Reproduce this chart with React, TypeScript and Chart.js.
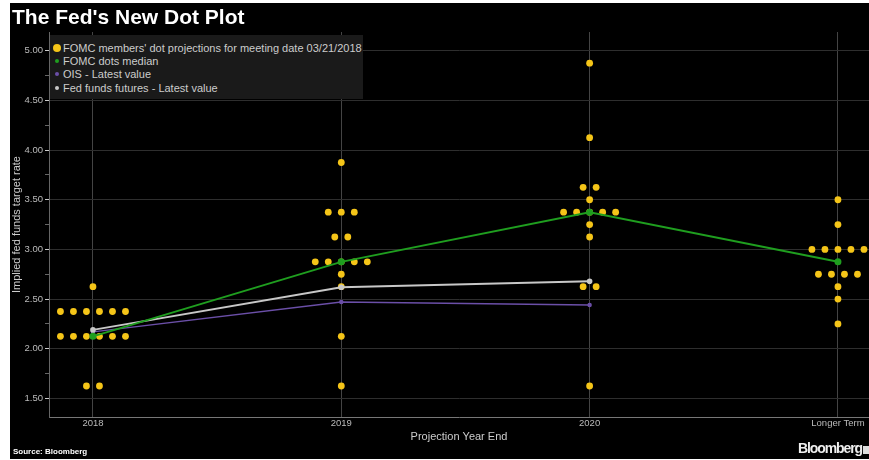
import { useEffect, useRef } from 'react'
import { Chart, registerables } from 'chart.js'

Chart.register(...registerables)

const categories = ['2018', '2019', '2020', 'Longer Term']

// [rate, number of FOMC members at that rate]
const dots2018 = [[2.625, 1], [2.375, 6], [2.125, 6], [1.625, 2]]
const dots2019 = [[3.875, 1], [3.375, 3], [3.125, 2], [2.875, 5], [2.75, 1], [2.625, 1], [2.125, 1], [1.625, 1]]
const dots2020 = [[4.875, 1], [4.125, 1], [3.625, 2], [3.5, 1], [3.375, 5], [3.25, 1], [3.125, 1], [2.625, 2], [1.625, 1]]
const dotsLonger = [[3.5, 1], [3.25, 1], [3.0, 5], [2.75, 4], [2.625, 1], [2.5, 1], [2.25, 1]]
const dotGroups = [dots2018, dots2019, dots2020, dotsLonger]

const medianValues = [2.125, 2.875, 3.375, 2.875]
const futuresValues = [2.19, 2.62, 2.68]
const oisValues = [2.17, 2.47, 2.44]

const yMajorTicks = [1.5, 2, 2.5, 3, 3.5, 4, 4.5, 5]

const legendItems = [
  { label: "FOMC members' dot projections for meeting date 03/21/2018", color: '#f5c518', size: 8 },
  { label: 'FOMC dots median', color: '#1f9e1f', size: 4 },
  { label: 'OIS - Latest value', color: '#6b4fa8', size: 4 },
  { label: 'Fed funds futures - Latest value', color: '#c8c8c8', size: 4 },
]

const DOT_STEP = 0.0524
const FONT = '"Liberation Sans", Arial, sans-serif'

const isMajor = (v: number) => yMajorTicks.some(t => Math.abs(t - v) < 1e-6)

export default function App() {
  const canvasRef = useRef<HTMLCanvasElement>(null)
  const chartRef = useRef<Chart | null>(null)

  useEffect(() => {
    document.body.style.margin = '0'
    if (!canvasRef.current) return
    chartRef.current?.destroy()

    const dotPoints = dotGroups.flatMap((group, i) =>
      group.flatMap(([rate, count]) =>
        Array.from({ length: count }, (_, j) => ({ x: i + (j - (count - 1) / 2) * DOT_STEP, y: rate }))
      )
    )
    const toXY = (vals: number[]) => vals.map((v, i) => ({ x: i, y: v }))

    chartRef.current = new Chart(canvasRef.current, {
      type: 'scatter',
      data: {
        datasets: [
          {
            label: 'FOMC dots median',
            data: toXY(medianValues),
            showLine: true,
            borderColor: '#1f9e1f',
            backgroundColor: '#1f9e1f',
            borderWidth: 2,
            pointRadius: 2.5,
            order: 0,
          },
          {
            label: 'Fed funds futures - Latest value',
            data: toXY(futuresValues),
            showLine: true,
            borderColor: '#c8c8c8',
            backgroundColor: '#c8c8c8',
            borderWidth: 2,
            pointRadius: 1.8,
            order: 1,
          },
          {
            label: 'OIS - Latest value',
            data: toXY(oisValues),
            showLine: true,
            borderColor: '#6b4fa8',
            backgroundColor: '#6b4fa8',
            borderWidth: 1.5,
            pointRadius: 1.5,
            order: 2,
          },
          {
            label: "FOMC members' dot projections",
            data: dotPoints,
            backgroundColor: '#f5c518',
            borderColor: '#f5c518',
            borderWidth: 0,
            pointRadius: 3.4,
            order: 3,
          },
        ],
      },
      options: {
        responsive: false,
        animation: false,
        layout: { padding: { top: 29, left: 0, right: 0, bottom: 0 }, autoPadding: false },
        plugins: {
          legend: { display: false },
          tooltip: { enabled: false },
        },
        scales: {
          x: {
            type: 'linear',
            min: -0.177,
            max: 3.125,
            afterBuildTicks: s => { s.ticks = categories.map((_, i) => ({ value: i })) },
            afterFit: s => { s.height = 42 },
            ticks: {
              autoSkip: false,
              maxRotation: 0,
              padding: 1,
              color: '#bbb',
              font: { family: FONT, size: 9.5 },
              callback: v => categories[Number(v)] ?? '',
            },
            grid: { color: '#444', drawTicks: false },
            border: { color: '#777' },
            title: {
              display: true,
              text: 'Projection Year End',
              color: '#ccc',
              font: { family: FONT, size: 11 },
              padding: { top: 0, bottom: 15 },
            },
          },
          y: {
            min: 1.313,
            max: 5.189,
            afterFit: s => { s.width = 39 },
            ticks: {
              stepSize: 0.25,
              includeBounds: false,
              autoSkip: false,
              padding: 2,
              color: '#bbb',
              font: { family: FONT, size: 9.5 },
              callback: v => (isMajor(Number(v)) ? Number(v).toFixed(2) : ''),
            },
            grid: {
              color: ctx => (isMajor(ctx.tick.value) ? '#2e2e2e' : 'rgba(0,0,0,0)'),
              tickColor: ctx => (isMajor(ctx.tick.value) ? '#ccc' : '#666'),
              tickLength: 4,
            },
            border: { color: '#666' },
            title: {
              display: true,
              text: 'Implied fed funds target rate',
              color: '#ccc',
              font: { family: FONT, size: 11 },
              padding: { top: 0, bottom: 0 },
            },
          },
        },
      },
    })

    return () => {
      chartRef.current?.destroy()
      chartRef.current = null
    }
  }, [])

  return (
    <div style={{ position: 'relative', width: 869, height: 460, background: '#fff', overflow: 'hidden' }}>
      <div style={{ position: 'absolute', left: 10, top: 3, width: 859, height: 456, background: '#000' }}>
        <canvas ref={canvasRef} width={859} height={456} style={{ display: 'block' }} />
      </div>

      {/* Title */}
      <div style={{
        position: 'absolute', left: 12, top: 3, color: '#fff',
        fontFamily: FONT, fontWeight: 700, fontSize: 21, lineHeight: '28px',
      }}>
        The Fed's New Dot Plot
      </div>

      {/* Legend */}
      <div style={{
        position: 'absolute', left: 50, top: 35, width: 313, height: 64,
        background: '#1a1a1a', padding: '6px 0 0 0', boxSizing: 'border-box',
      }}>
        {legendItems.map(item => (
          <div key={item.label} style={{ display: 'flex', alignItems: 'center', height: 13.4 }}>
            <div style={{ width: 13, display: 'flex', justifyContent: 'center' }}>
              <div style={{ width: item.size, height: item.size, borderRadius: '50%', background: item.color }} />
            </div>
            <span style={{ fontFamily: FONT, fontSize: 11, color: '#ccc', whiteSpace: 'nowrap' }}>{item.label}</span>
          </div>
        ))}
      </div>

      {/* Footer */}
      <div style={{
        position: 'absolute', left: 13, top: 447, color: '#fff',
        fontFamily: FONT, fontWeight: 700, fontSize: 8,
      }}>
        Source: Bloomberg
      </div>
      <div style={{
        position: 'absolute', left: 798, top: 441, color: '#eee',
        fontFamily: FONT, fontWeight: 700, fontSize: 14, lineHeight: '15px', letterSpacing: -1.1,
        whiteSpace: 'nowrap',
      }}>
        Bloomberg
      </div>
      <div style={{ position: 'absolute', left: 863, top: 446, width: 6, height: 8, background: '#ddd' }} />
    </div>
  )
}
